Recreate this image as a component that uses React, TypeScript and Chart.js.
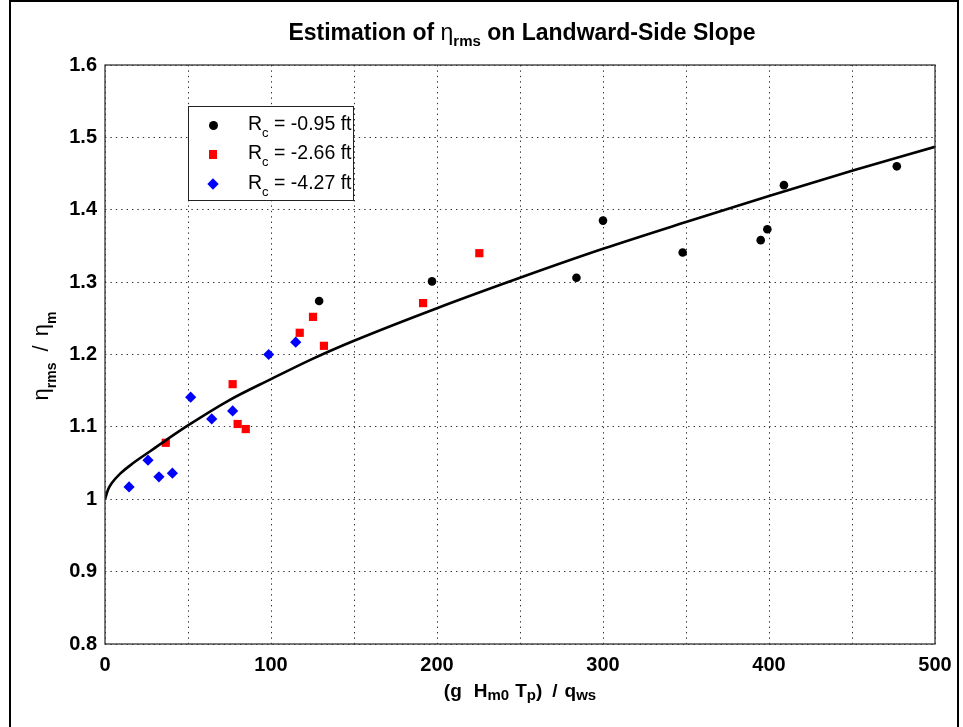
import React, { useEffect, useRef } from "react";
import { Chart, registerables } from "chart.js";

Chart.register(...registerables);

const FONT = '"Liberation Sans", Arial, Helvetica, sans-serif';

// Rc = -0.95 ft (black dots)
const blackX = [129, 197, 284, 300, 348, 395, 399, 409, 477];
const blackY = [1.274, 1.301, 1.306, 1.385, 1.341, 1.358, 1.373, 1.434, 1.46];

// Rc = -2.66 ft (red squares)
const redX = [36.6, 76.9, 79.9, 84.8, 117.3, 125.3, 131.9, 191.6, 225.5];
const redY = [1.078, 1.159, 1.104, 1.097, 1.23, 1.252, 1.212, 1.271, 1.34];

// Rc = -4.27 ft (blue diamonds)
const blueX = [14.5, 25.9, 32.5, 40.6, 51.6, 64.3, 76.9, 98.6, 114.9];
const blueY = [1.017, 1.054, 1.031, 1.036, 1.141, 1.111, 1.122, 1.2, 1.217];

// fitted curve
const fitX = [0, 2, 4, 9, 17, 27, 37, 50, 75, 100, 125, 150, 200, 250, 300, 350, 400, 450, 500];
const fitY = [1.0, 1.014, 1.022, 1.035, 1.05, 1.066, 1.082, 1.102, 1.137, 1.166, 1.194, 1.219, 1.264, 1.306, 1.346, 1.383, 1.419, 1.454, 1.487];

const legendLabels = ["-0.95 ft", "-2.66 ft", "-4.27 ft"];
const legendColors = ["#000000", "#ff0000", "#0000ff"];

const xMin = 0;
const xMax = 500;
const xStep = 50;
const xLabelStep = 100;
const yMin = 0.8;
const yMax = 1.6;
const yStep = 0.1;

function pts(xs: number[], ys: number[]) {
  return xs.map((x, i) => ({ x, y: ys[i] }));
}

const sub = (text: string, size: number, drop: number, weight: string | number = "bold") => (
  <span style={{ fontSize: size, position: "relative", top: drop, fontWeight: weight as any }}>{text}</span>
);

export default function App() {
  const ref = useRef<HTMLCanvasElement>(null);

  useEffect(() => {
    if (!ref.current) return;
    const boxPlugin = {
      id: "boxPlugin",
      afterDatasetsDraw(chart: any) {
        const { ctx, chartArea: a } = chart;
        ctx.save();
        ctx.strokeStyle = "#333";
        ctx.lineWidth = 1.3;
        ctx.strokeRect(a.left, a.top, a.right - a.left, a.bottom - a.top);
        ctx.restore();
      },
    };
    const tickFont = { family: FONT, size: 20, weight: "bold" as const };
    const chart = new Chart(ref.current, {
      type: "scatter",
      data: {
        datasets: [
          {
            label: "fit",
            data: pts(fitX, fitY),
            showLine: true,
            borderColor: "#000",
            borderWidth: 2.6,
            pointRadius: 0,
            fill: false,
            cubicInterpolationMode: "monotone",
            order: 0,
          } as any,
          {
            label: "Rc = " + legendLabels[0],
            data: pts(blackX, blackY),
            pointStyle: "circle",
            pointRadius: 4.3,
            backgroundColor: legendColors[0],
            borderColor: legendColors[0],
            borderWidth: 0,
            order: 1,
          },
          {
            label: "Rc = " + legendLabels[1],
            data: pts(redX, redY),
            pointStyle: "rect",
            pointRadius: 5.8,
            backgroundColor: legendColors[1],
            borderColor: legendColors[1],
            borderWidth: 0,
            order: 2,
          },
          {
            label: "Rc = " + legendLabels[2],
            data: pts(blueX, blueY),
            pointStyle: "rectRot",
            pointRadius: 5.6,
            backgroundColor: legendColors[2],
            borderColor: legendColors[2],
            borderWidth: 0,
            order: 3,
          },
        ],
      },
      options: {
        animation: false,
        responsive: false,
        events: [],
        layout: { padding: { left: 0, top: 65, right: 28, bottom: 0 } },
        plugins: {
          legend: { display: false },
          title: { display: false },
          tooltip: { enabled: false },
        },
        scales: {
          x: {
            type: "linear",
            min: xMin,
            max: xMax,
            ticks: {
              stepSize: xStep,
              autoSkip: false,
              maxRotation: 0,
              padding: 9,
              color: "#000",
              font: tickFont,
              callback: (v: any) => (Number(v) % xLabelStep === 0 ? String(v) : ""),
            },
            grid: { color: "#333", lineWidth: 1, drawTicks: false },
            border: { display: false, dash: [1.4, 4] },
            afterFit: (s: any) => {
              s.height = 83;
            },
          },
          y: {
            type: "linear",
            min: yMin,
            max: yMax,
            ticks: {
              stepSize: yStep,
              autoSkip: false,
              padding: 8,
              color: "#000",
              font: tickFont,
              callback: (v: any) => String(Math.round(Number(v) * 10) / 10),
            },
            grid: { color: "#333", lineWidth: 1, drawTicks: false },
            border: { display: false, dash: [1.4, 4] },
            afterFit: (s: any) => {
              s.width = 105;
            },
          },
        },
      },
      plugins: [boxPlugin],
    });
    return () => chart.destroy();
  }, []);

  const legendRowY = [125, 154.5, 184];

  return (
    <div
      style={{
        position: "absolute",
        left: 0,
        top: 0,
        width: 963,
        height: 727,
        overflow: "hidden",
        background: "#fff",
        fontFamily: FONT,
        color: "#000",
      }}
    >
      <canvas ref={ref} width={963} height={727} style={{ position: "absolute", left: 0, top: 0, width: 963, height: 727 }} />
      {/* figure frame */}
      <div
        style={{
          position: "absolute",
          left: 9,
          top: 0,
          width: 950,
          height: 760,
          border: "2px solid #000",
          boxSizing: "border-box",
          pointerEvents: "none",
        }}
      />
      {/* title */}
      <div
        style={{
          position: "absolute",
          left: 522,
          top: 21,
          transform: "translateX(-50%)",
          whiteSpace: "nowrap",
          fontSize: 23,
          lineHeight: "23px",
          fontWeight: "bold",
        }}
      >
        Estimation of <span style={{ fontWeight: "normal" }}>η</span>
        {sub("rms", 15, 6)} on Landward-Side Slope
      </div>
      {/* x axis title */}
      <div
        style={{
          position: "absolute",
          left: 520,
          top: 681,
          transform: "translateX(-50%)",
          whiteSpace: "nowrap",
          fontSize: 19,
          lineHeight: "19px",
          fontWeight: "bold",
        }}
      >
        (g<span style={{ marginLeft: 12 }}>H</span>
        {sub("m0", 15, 3)}
        <span style={{ marginLeft: 6 }}>T</span>
        {sub("p", 15, 3)})<span style={{ marginLeft: 10 }}>/</span>
        <span style={{ marginLeft: 7 }}>q</span>
        {sub("ws", 15, 3)}
      </div>
      {/* y axis title */}
      <div
        style={{
          position: "absolute",
          left: 42,
          top: 356,
          transform: "translate(-50%, -50%) rotate(-90deg)",
          whiteSpace: "nowrap",
          fontSize: 22,
          lineHeight: "22px",
          fontWeight: "normal",
        }}
      >
        η{sub("rms", 14, 8)}
        <span style={{ marginLeft: 11 }}>/</span>
        <span style={{ marginLeft: 9 }}>η</span>
        {sub("m", 14, 8)}
      </div>
      {/* legend */}
      <div
        style={{
          position: "absolute",
          left: 188,
          top: 106,
          width: 166,
          height: 95,
          border: "1.5px solid #222",
          boxSizing: "border-box",
          background: "#fff",
        }}
      />
      {legendLabels.map((lab, i) => {
        const cy = legendRowY[i];
        let marker: React.ReactNode;
        if (i === 0) {
          marker = (
            <div style={{ position: "absolute", left: 213 - 4.5, top: cy - 4.5, width: 9, height: 9, borderRadius: "50%", background: legendColors[0] }} />
          );
        } else if (i === 1) {
          marker = (
            <div style={{ position: "absolute", left: 213 - 4.3, top: cy - 4.3, width: 8.6, height: 8.6, background: legendColors[1] }} />
          );
        } else {
          marker = (
            <div
              style={{
                position: "absolute",
                left: 213 - 4,
                top: cy - 4,
                width: 8,
                height: 8,
                background: legendColors[2],
                transform: "rotate(45deg)",
              }}
            />
          );
        }
        return (
          <React.Fragment key={lab}>
            {marker}
            <div
              style={{
                position: "absolute",
                left: 248,
                top: cy + 5 - 16.5,
                whiteSpace: "nowrap",
                fontSize: 19.5,
                lineHeight: "19.5px",
              }}
            >
              R{sub("c", 13, 7, "normal")} = {lab}
            </div>
          </React.Fragment>
        );
      })}
    </div>
  );
}
